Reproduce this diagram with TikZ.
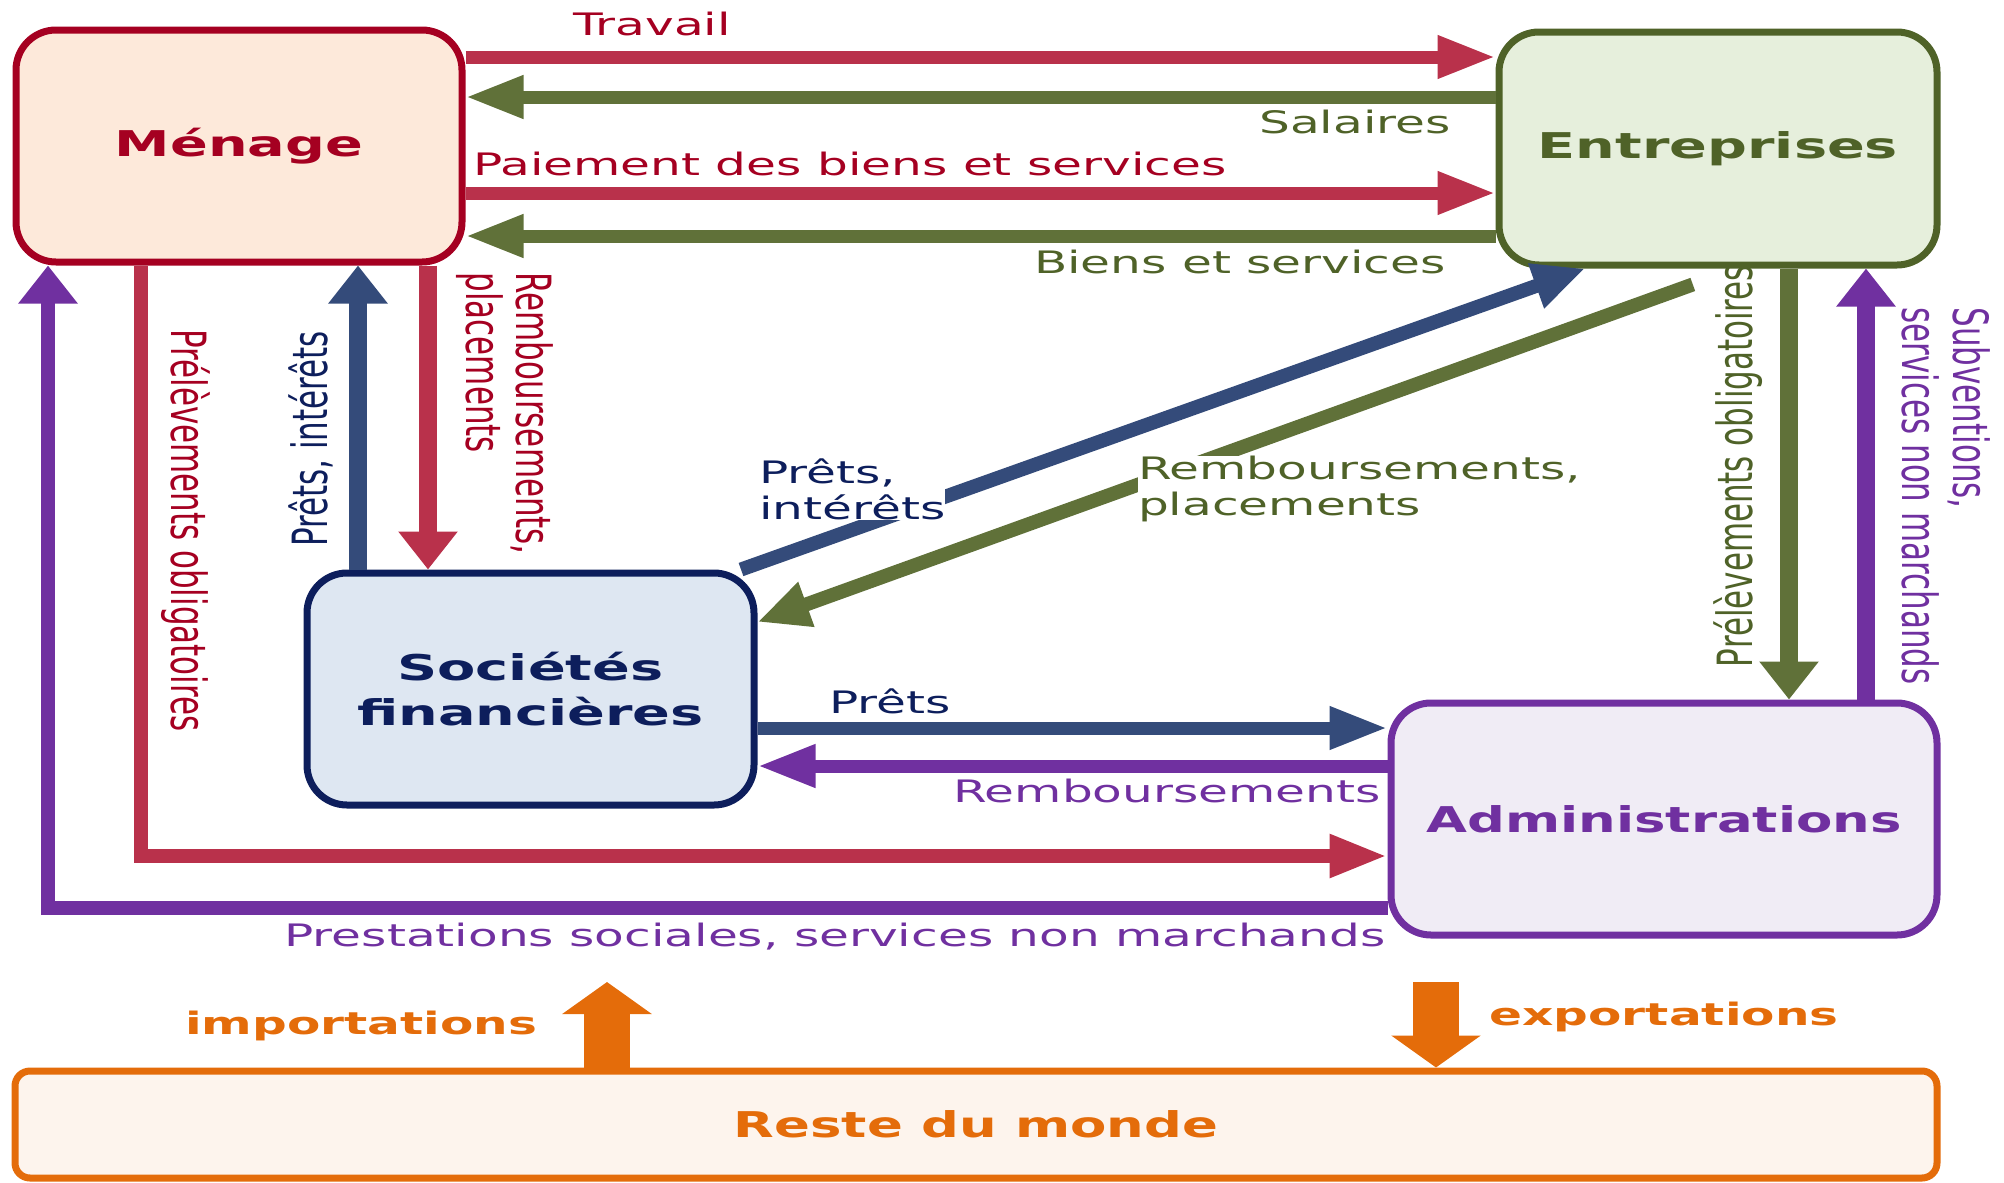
\documentclass[tikz,border=0pt]{standalone}
\usepackage{fontspec}
\setmainfont{DejaVu Sans}
\usepackage{graphicx}
\usetikzlibrary{arrows.meta}

\definecolor{menageLine}{RGB}{165,0,33}
\definecolor{menageFill}{RGB}{253,233,218}
\definecolor{redArrow}{RGB}{185,49,75}
\definecolor{entLine}{RGB}{79,98,40}
\definecolor{entFill}{RGB}{230,239,220}
\definecolor{greenArrow}{RGB}{96,113,57}
\definecolor{socLine}{RGB}{13,30,92}
\definecolor{socFill}{RGB}{222,231,242}
\definecolor{blueArrow}{RGB}{52,75,122}
\definecolor{admLine}{RGB}{112,48,160}
\definecolor{admFill}{RGB}{240,236,245}
\definecolor{orangeLine}{RGB}{228,108,10}
\definecolor{resteFill}{RGB}{253,244,237}

\newcommand{\wide}[2][1.57]{\scalebox{#1}[1]{#2}}

\begin{document}
\begin{tikzpicture}[
        x=0.1mm, y=-0.1mm,
        box/.style={draw, line width=0.7mm, rounded corners=4mm, inner sep=0pt, align=center,
            font=\fontsize{10.1}{12.8}\selectfont\bfseries},
        lbl/.style={xscale=1.57, inner sep=0pt, font=\fontsize{8.8}{10.3}\selectfont},
        vlines/.style={font=\fontsize{8.8}{9.2}\selectfont},
        olbl/.style={lbl, text=orangeLine, font=\fontsize{8.8}{10.3}\selectfont\bfseries},
        harr/.style={line width=1.3mm, -{Triangle[length=5.8mm, width=4mm]}},
        varr/.style={line width=1.8mm, -{Triangle[length=3.8mm, width=5.7mm]}},
        darr/.style={line width=1.4mm, -{Triangle[length=5.2mm, width=4.4mm]}},
        bigarr/.style={line width=4.6mm, orangeLine, -{Triangle[length=3.2mm, width=8.8mm]}},
    ]
    \useasboundingbox (0,0) rectangle (2004,1182);

    % secteurs
    \node[box, draw=menageLine, fill=menageFill, text=menageLine, minimum width=44.6mm, minimum height=23.2mm] (menage) at (239,146) {\wide{Ménage}};
    \node[box, draw=entLine, fill=entFill, text=entLine, minimum width=43.8mm, minimum height=23.3mm] (entreprises) at (1718,148.5) {\wide{Entreprises}};
    \node[box, draw=socLine, fill=socFill, text=socLine, minimum width=44.7mm, minimum height=23.2mm] (societes) at (530.5,689) {\wide{Sociétés}\\\wide{financières}};
    \node[box, draw=admLine, fill=admFill, text=admLine, minimum width=54.6mm, minimum height=23.2mm] (admin) at (1664,819) {\wide[1.49]{Administrations}};
    \node[box, draw=orangeLine, fill=resteFill, text=orangeLine, rounded corners=1.5mm, minimum width=192.2mm, minimum height=10.7mm] (reste) at (976,1124.5) {\wide[1.49]{Reste du monde}};

    % menage <-> entreprises
    \draw[harr, redArrow] (menage.east |- 0,57) -- (entreprises.west |- 0,57);
    \draw[harr, greenArrow] (entreprises.west |- 0,97) -- (menage.east |- 0,97);
    \draw[harr, redArrow] (menage.east |- 0,193) -- (entreprises.west |- 0,193);
    \draw[harr, greenArrow] (entreprises.west |- 0,236) -- (menage.east |- 0,236);

    % administrations
    \draw[varr, line width=1.4mm, admLine] (admin.west |- 0,908) -| (menage.south -| 48,0);
    \draw[harr, line width=1.4mm, redArrow] (menage.south -| 141,0) |- (admin.west |- 0,856);
    \draw[varr, greenArrow] (entreprises.south -| 1789,0) -- (admin.north -| 1789,0);
    \draw[varr, admLine] (admin.north -| 1866,0) -- (entreprises.south -| 1866,0);

    % societes financieres
    \draw[varr, blueArrow] (societes.north -| 358,0) -- (menage.south -| 358,0);
    \draw[varr, redArrow] (menage.south -| 428,0) -- (societes.north -| 428,0);
    \draw[darr, blueArrow] (societes.north -| 741,0) -- (entreprises.south -| 1585,0);
    \draw[darr, greenArrow, shorten <=4.7mm] (entreprises.south -| 1737,0) -- (societes.east |- 0,622);
    \draw[harr, blueArrow] (societes.east |- 0,728) -- (admin.west |- 0,728);
    \draw[harr, admLine] (admin.west |- 0,766) -- (societes.east |- 0,766);

    % reste du monde
    \coordinate (impTip) at (607,982);
    \coordinate (expTail) at (1436,982);
    \draw[bigarr] (reste.north -| impTip) -- (impTip);
    \draw[bigarr] (expTail) -- (reste.north -| expTail);

    % textes
    \node[lbl, text=menageLine, anchor=base] (lTravail) at (652,35) {Travail};
    \node[lbl, text=entLine, anchor=base] (lSalaires) at (1355,133) {Salaires};
    \node[lbl, text=menageLine, anchor=base] (lPaiement) at (850,175) {Paiement des biens et services};
    \node[lbl, text=entLine, anchor=base] (lBiens) at (1240,273) {Biens et services};
    \node[lbl, text=menageLine, rotate=-90] (lPrelevM) at (185.5,530.5) {Prélèvements obligatoires};
    \node[lbl, text=socLine, rotate=90] (lPretsV) at (311,439) {Prêts, intérêts};
    \node[lbl, vlines, text=menageLine, rotate=-90, anchor=west, align=left] (lRembV) at (505,272) {Remboursements,\\placements};
    \node[lbl, text=socLine, fill=white, anchor=north west, align=left] (lPretsD) at (758,458) {Prêts,\\intérêts};
    \node[lbl, text=entLine, fill=white, anchor=north west, align=left] (lRembD) at (1137,455) {Remboursements,\\placements};
    \node[lbl, text=socLine, anchor=base] (lPrets) at (890,713) {Prêts};
    \node[lbl, text=admLine, anchor=base] (lRemb) at (1167,802) {Remboursements};
    \node[lbl, text=admLine, anchor=base] (lPrest) at (835,946) {Prestations sociales, services non marchands};
    \node[lbl, text=entLine, rotate=90] (lPrelevE) at (1738,466) {Prélèvements obligatoires};
    \node[lbl, vlines, text=admLine, rotate=-90, anchor=west, align=left] (lSubv) at (1946,307) {Subventions,\\services non marchands};
    \node[olbl, anchor=base] (lImport) at (361,1034) {importations};
    \node[olbl, anchor=base] (lExport) at (1664,1025) {exportations};
\end{tikzpicture}
\end{document}
